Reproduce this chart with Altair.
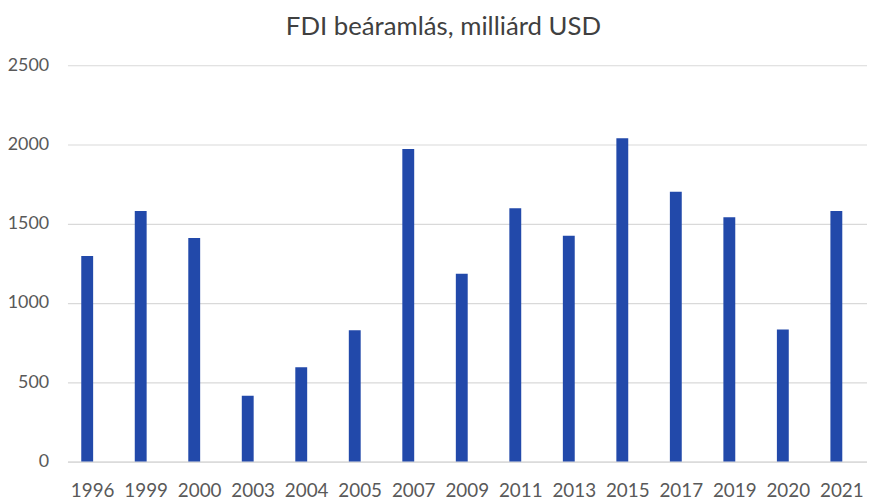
import altair as alt
import pandas as pd

years = ["1996", "1999", "2000", "2003", "2004", "2005", "2007", "2009",
         "2011", "2013", "2015", "2017", "2019", "2020", "2021"]
values = [1297, 1580, 1410, 415, 595, 828, 1972, 1185,
          1598, 1425, 2040, 1702, 1542, 833, 1580]

df = pd.DataFrame({"year": years, "value": values})

FONT = "Lato"

chart = alt.Chart(df).mark_bar(color="#2249AA", xOffset=-5.5).encode(
    x=alt.X("year:N", sort=years,
            scale=alt.Scale(paddingInner=0.778, paddingOuter=0.36),
            axis=alt.Axis(title=None, labelAngle=0, labelFontSize=19,
                          labelColor="#595959", labelFont=FONT,
                          labelPadding=20, ticks=False,
                          domainColor="#D9D9D9", domainWidth=1.2, grid=False)),
    y=alt.Y("value:Q",
            scale=alt.Scale(domain=[0, 2500], nice=False),
            axis=alt.Axis(title=None, values=[0, 500, 1000, 1500, 2000, 2500],
                          format="d",
                          labelFontSize=18, labelColor="#595959", labelFont=FONT,
                          labelPadding=19, ticks=False, domain=False,
                          gridColor="#D9D9D9", gridWidth=1.2)),
).properties(
    width=807,
    height=400,
    title=alt.TitleParams("FDI beáramlás, milliárd USD", font=FONT, fontSize=26,
                          fontWeight="normal", color="#404040",
                          anchor="middle", dx=-24, offset=17),
    autosize=alt.AutoSizeParams(type="none"),
    padding={"left": 60, "top": 55.5, "right": 0, "bottom": 38},
).configure_view(stroke=None)

chart.save("out.html", embed_options={"renderer": "svg", "actions": False})
